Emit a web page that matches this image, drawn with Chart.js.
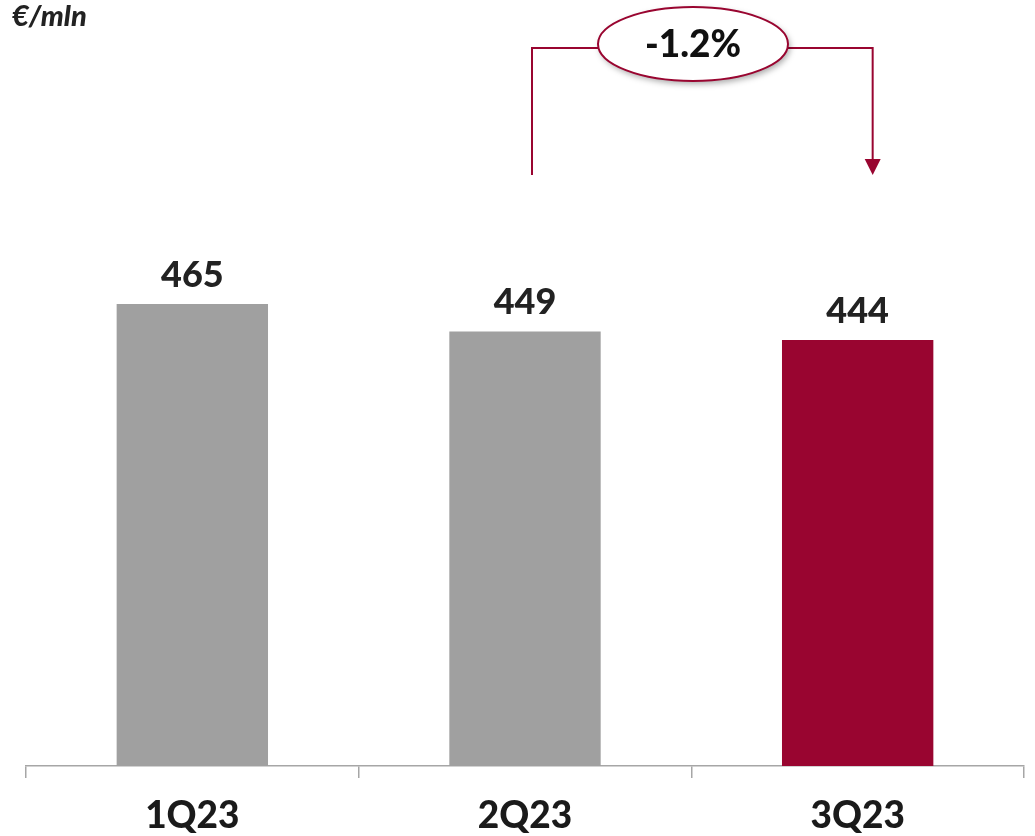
<!DOCTYPE html>
<html>
<head>
<meta charset="utf-8">
<script src="https://cdn.jsdelivr.net/npm/chart.js@4/dist/chart.umd.min.js"></script>
<style>
  html, body { margin: 0; padding: 0; background: #fff; }
  #wrap { width: 1035px; height: 836px; position: relative; }
</style>
</head>
<body>
<div id="wrap"><canvas id="revenue-chart"></canvas></div>
<script>
const quarters = ["1Q23", "2Q23", "3Q23"];
const revenue = [465, 449, 444];
const barColors = ["#a0a0a0", "#a0a0a0", "#990530"];
const changeLabel = "-1.2%";
const unitLabel = "€/mln";

const accent = "#990530";
const fontFamily = "Lato, 'Open Sans', sans-serif";

// value above each bar + unit caption + the change bracket between 2Q and 3Q
const overlay = {
  id: "overlay",
  afterDatasetsDraw(chart) {
    const ctx = chart.ctx;
    const bars = chart.getDatasetMeta(0).data;
    const xs = chart.scales.x;

    ctx.save();
    ctx.fillStyle = "#222";
    ctx.textAlign = "center";
    ctx.textBaseline = "alphabetic";
    ctx.font = "900 36px " + fontFamily;
    bars.forEach((bar, i) => {
      ctx.fillText(String(revenue[i]), bar.x, bar.y - 17);
    });

    ctx.textAlign = "left";
    ctx.font = "italic 900 29px " + fontFamily;
    ctx.fillText(unitLabel, 12, 26);

    // bracket
    const xl = xs.getPixelForValue(1) + 7;
    const xr = xs.getPixelForValue(2) + 15;
    const lineY = 48;
    const cx = 693, cy = 44, rx = 95, ry = 37;
    ctx.strokeStyle = accent;
    ctx.lineWidth = 2;
    ctx.beginPath();
    ctx.moveTo(xl, 175);
    ctx.lineTo(xl, lineY);
    ctx.lineTo(cx - rx, lineY);
    ctx.moveTo(cx + rx, lineY);
    ctx.lineTo(xr, lineY);
    ctx.lineTo(xr, 160);
    ctx.stroke();

    ctx.fillStyle = accent;
    ctx.beginPath();
    ctx.moveTo(xr - 8, 159);
    ctx.lineTo(xr + 8, 159);
    ctx.lineTo(xr, 175);
    ctx.closePath();
    ctx.fill();

    // ellipse with a soft shadow
    ctx.save();
    ctx.shadowColor = "rgba(0,0,0,0.35)";
    ctx.shadowBlur = 6;
    ctx.shadowOffsetX = 2;
    ctx.shadowOffsetY = 3;
    ctx.fillStyle = "#fff";
    ctx.beginPath();
    ctx.ellipse(cx, cy, rx, ry, 0, 0, Math.PI * 2);
    ctx.fill();
    ctx.restore();
    ctx.beginPath();
    ctx.ellipse(cx, cy, rx, ry, 0, 0, Math.PI * 2);
    ctx.stroke();

    ctx.fillStyle = "#111";
    ctx.textAlign = "center";
    ctx.textBaseline = "middle";
    ctx.font = "900 37px " + fontFamily;
    ctx.fillText(changeLabel, cx, cy + 1);
    ctx.restore();
  }
};

new Chart(document.getElementById("revenue-chart"), {
  type: "bar",
  data: {
    labels: quarters,
    datasets: [{
      data: revenue,
      backgroundColor: barColors,
      borderWidth: 0,
      categoryPercentage: 1,
      barPercentage: 0.455
    }]
  },
  options: {
    responsive: true,
    maintainAspectRatio: false,
    animation: false,
    layout: { padding: { left: 26, right: 11, top: 200, bottom: 0 } },
    plugins: {
      legend: { display: false },
      tooltip: { enabled: false }
    },
    scales: {
      x: {
        afterFit(scale) {
          scale.height = 70;
        },
        border: { display: true, color: "#a6a6a6", width: 1.5 },
        grid: {
          display: true,
          offset: true,
          drawOnChartArea: false,
          drawTicks: true,
          tickLength: 12,
          color: "#a6a6a6",
          lineWidth: 1.5
        },
        ticks: {
          color: "#1a1a1a",
          padding: 16,
          font: { family: fontFamily, size: 37, weight: "900" }
        }
      },
      y: {
        display: false,
        min: 195.5,
        max: 525.7
      }
    }
  },
  plugins: [overlay]
});
</script>
</body>
</html>
